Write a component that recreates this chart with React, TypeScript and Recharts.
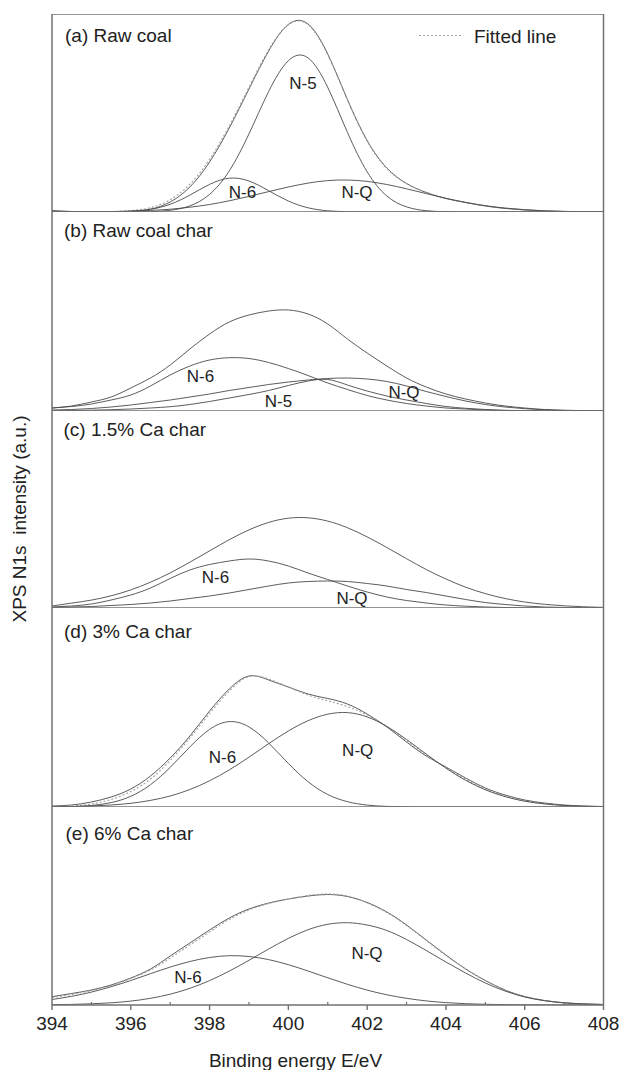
import { LineChart, Line, XAxis, YAxis, ReferenceLine } from "recharts"

// binding energy grid, eV
const energy = [
  394, 394.5, 395, 395.5, 396, 396.5, 397, 397.5, 398, 398.5, 399, 399.5, 400, 400.5, 401,
  401.5, 402, 402.5, 403, 403.5, 404, 404.5, 405, 405.5, 406, 406.5, 407, 407.5, 408,
]
const majorTicks = [394, 396, 398, 400, 402, 404, 406, 408]
const minorTicks = [395, 397, 399, 401, 403, 405, 407]

// (a) raw coal
const rawA = [1.5, 0.5, 0, 0.3, 0.8, 2.8, 10, 25, 50, 84, 123, 161, 187.5, 188, 158, 112.5, 71.5, 44, 28.5, 19.5, 13.5, 9.5, 6, 3.6, 2, 1, 0.5, 0.4, 0.3]
const fitA = [0, 0.1, 0.2, 0.4, 1.5, 4.3, 12.2, 27.8, 52.7, 86.1, 124.7, 162.2, 187.3, 187.2, 157.2, 111.9, 70.8, 43.5, 28.3, 19.7, 13.7, 9.6, 6.3, 3.9, 2.3, 1.2, 0.6, 0.3, 0.1]
const n5A = [0, 0, 0, 0, 0, 0.3, 1.7, 6.1, 17.6, 41.1, 78.1, 120.5, 151.3, 154.1, 124.6, 79.6, 40.2, 16, 5.1, 1.3, 0.2, 0, 0, 0, 0, 0, 0, 0, 0]
const n6A = [0, 0, 0, 0, 0.7, 2.7, 7.7, 16.9, 27.6, 33.8, 31, 21.3, 11, 4.2, 1.2, 0.3, 0, 0, 0, 0, 0, 0, 0, 0, 0, 0, 0, 0, 0]
const nqA = [0, 0.1, 0.2, 0.4, 0.8, 1.6, 2.8, 4.8, 7.5, 11.2, 15.6, 20.4, 25, 28.9, 31.4, 32, 30.6, 27.5, 23.2, 18.4, 13.7, 9.6, 6.3, 3.9, 2.3, 1.2, 0.6, 0.3, 0.1]

// (b) raw coal char
const rawB = [3, 5, 9, 14, 23, 33, 46, 62, 77, 89, 96, 100, 101, 97, 87, 72, 58, 45, 33, 24, 17, 12, 8, 5, 3, 1.5, 0.8, 0.3, 0]
const n6B = [3, 4.5, 7, 11, 16, 25, 36, 45, 51, 53.3, 52.5, 48.5, 42.5, 35.5, 28, 21.5, 15.5, 11, 7.5, 5, 3, 2, 1, 0.5, 0.2, 0, 0, 0, 0]
const n5B = [0.3, 0.5, 0.8, 1.3, 2, 3, 4.3, 6.5, 9.5, 13, 16.5, 20.5, 25.5, 30, 31.5, 26, 20, 15, 11, 7.5, 4.5, 2.7, 1.5, 0.7, 0.3, 0, 0, 0, 0]
const nqB = [1, 1.5, 2.5, 4, 6, 8.5, 11, 14, 17, 20.5, 23.5, 26.5, 29, 31, 32.5, 33, 32, 29.5, 25, 19.5, 14.5, 10, 6.5, 4, 2.3, 1.2, 0.5, 0.2, 0]

// (c) 1.5% Ca char
const rawC = [2, 4.9, 7.9, 12.2, 18.1, 25.8, 35.1, 45.8, 57.1, 68.3, 78.1, 85.6, 89.8, 90.2, 86.9, 80.3, 71.1, 60.5, 49.3, 38.5, 29, 20.8, 14.4, 9.5, 6, 3.7, 2.2, 1.2, 0.6]
const n6C = [1, 2, 4, 8, 13, 20, 29.5, 38, 43.5, 47, 49, 47, 42, 35, 28.5, 22, 16, 11, 7.5, 5, 3, 1.8, 1, 0.5, 0.2, 0, 0, 0, 0]
const nqC = [0.5, 1, 1.5, 2.5, 3.5, 5, 7, 9.5, 12, 15, 18.5, 22, 25, 26.5, 27, 26.5, 24.5, 22, 18.5, 15.5, 12, 8.5, 5.5, 3.5, 2, 1, 0.5, 0.2, 0]

// (d) 3% Ca char
const rawD = [1, 2, 5, 10, 18, 31, 49, 71, 96, 118, 131, 127, 120, 113, 108.5, 103, 93, 80, 65, 51, 40, 29, 19, 12, 7, 4, 2, 1, 0.5]
const fitD = [0.3, 0.9, 3, 7.5, 15.5, 28, 46.5, 69, 93.5, 116, 130.5, 128, 120, 112, 106, 100.5, 92, 80.5, 66, 52, 39.5, 27.5, 18, 11, 6, 3.2, 1.5, 0.7, 0.3]
const n6D = [0.1, 0.4, 1.5, 4.4, 10.7, 22.3, 39.6, 60.1, 77.6, 85.4, 80.1, 64, 43.6, 25.3, 12.5, 5.3, 1.9, 0.6, 0.15, 0, 0, 0, 0, 0, 0, 0, 0, 0, 0]
const nqD = [0.2, 0.5, 1, 2, 3.7, 6.6, 11, 17.5, 26.2, 37.1, 49.8, 63.3, 76, 86.3, 92.8, 94.4, 90.1, 80.6, 67.5, 52.9, 38.8, 26.7, 17.2, 10.4, 5.8, 3.1, 1.5, 0.7, 0.3]

// (e) 6% Ca char
const rawE = [8.3, 11.5, 15, 20, 27, 36, 49, 62, 75, 87, 96, 102, 106, 109, 110.5, 108.5, 102.5, 93, 80, 65, 50, 36, 24.5, 15, 8.5, 4.5, 2.2, 1, 0.5]
const fitE = [7.5, 10.5, 14.5, 19.5, 26.5, 35, 47, 60, 73, 85.5, 95, 101.5, 106, 109.5, 111, 109, 102, 92.5, 79.5, 64.5, 49.5, 36, 24.5, 15, 8.5, 4.5, 2.2, 1, 0.5]
const n6E = [5.5, 8.7, 12.9, 18.3, 24.5, 31.3, 37.9, 43.5, 47.5, 49.3, 48.5, 45.4, 40.3, 34, 27.2, 20.7, 14.9, 10.2, 6.7, 4.1, 2.4, 1.3, 0.7, 0.35, 0.15, 0, 0, 0, 0]
const nqE = [0.3, 0.6, 1.2, 2.2, 3.9, 6.7, 10.8, 16.7, 24.4, 33.9, 44.7, 56, 66.6, 75.3, 80.7, 82.3, 80, 74.5, 65.5, 54.5, 43, 32, 22, 14, 8, 4.3, 2.2, 1.1, 0.5]

const FONT = "'Liberation Sans', Arial, Helvetica, sans-serif"
const INK = "#4a4a4a"
const FRAME = "#707070"
const FIT = "#a0a0a0"
const W = 622
const LEFT = 52
const RIGHT = 603.5

type Curve = { key: string; values: number[]; dashed?: boolean }
type PanelProps = { top: number; height: number; curves: Curve[]; axis?: boolean; capTop?: boolean }

function Panel({ top, height, curves, axis, capTop }: PanelProps) {
  const rows = energy.map((e, i) => {
    const row: Record<string, number> = { e }
    curves.forEach((c) => (row[c.key] = c.values[i]))
    return row
  })
  const axisH = axis ? 40 : 0
  return (
    <div style={{ position: "absolute", left: 0, top }}>
      <LineChart
        width={W}
        height={height + axisH}
        data={rows}
        margin={{ top: 0, right: W - RIGHT, bottom: 0, left: LEFT }}
      >
        <XAxis
          type="number"
          dataKey="e"
          domain={[394, 408]}
          ticks={majorTicks}
          interval={0}
          hide={!axis}
          height={axisH}
          axisLine={false}
          tickLine={{ stroke: FRAME, strokeWidth: 1.4 }}
          tickSize={5}
          tickMargin={6.5}
          tick={{ fontSize: 19, fill: "#222", fontFamily: FONT }}
        />
        <YAxis hide type="number" domain={[0, height]} allowDataOverflow />
        {curves.map((c) => (
          <Line
            key={c.key}
            dataKey={c.key}
            type="natural"
            dot={false}
            stroke={c.dashed ? FIT : INK}
            strokeWidth={c.dashed ? 1.1 : 0.9}
            strokeDasharray={c.dashed ? "2 2" : undefined}
            isAnimationActive={false}
          />
        ))}
        <ReferenceLine x={394} stroke={FRAME} strokeWidth={1.5} />
        <ReferenceLine x={408} stroke={FRAME} strokeWidth={1.5} />
        <ReferenceLine y={0} stroke={FRAME} strokeWidth={1.5} />
        {capTop && <ReferenceLine y={height} stroke={FRAME} strokeWidth={1.5} />}
        {axis &&
          minorTicks.map((t) => (
            <ReferenceLine
              key={t}
              segment={[
                { x: t, y: 0 },
                { x: t, y: 3 },
              ]}
              stroke={FRAME}
              strokeWidth={1.2}
            />
          ))}
      </LineChart>
    </div>
  )
}

const titles = [
  { text: "(a) Raw coal", x: 65, y: 42 },
  { text: "(b) Raw coal char", x: 64, y: 237 },
  { text: "(c) 1.5% Ca char", x: 63.5, y: 436 },
  { text: "(d) 3% Ca char", x: 64, y: 638 },
  { text: "(e) 6% Ca char", x: 65.5, y: 840 },
]

const peakLabels = [
  { text: "N-5", x: 303, y: 89 },
  { text: "N-6", x: 242.5, y: 198 },
  { text: "N-Q", x: 357, y: 198 },
  { text: "N-6", x: 200.5, y: 382 },
  { text: "N-5", x: 278.5, y: 407 },
  { text: "N-Q", x: 404, y: 398 },
  { text: "N-6", x: 215.5, y: 583 },
  { text: "N-Q", x: 352, y: 604 },
  { text: "N-6", x: 222.5, y: 763 },
  { text: "N-Q", x: 357.7, y: 756 },
  { text: "N-6", x: 188, y: 983 },
  { text: "N-Q", x: 367, y: 959 },
]

export default function App() {
  return (
    <div style={{ position: "absolute", left: 0, top: 0, width: W, height: 1070, background: "#fff" }}>
      <Panel
        top={14}
        height={198}
        capTop
        curves={[
          { key: "raw", values: rawA },
          { key: "fit", values: fitA, dashed: true },
          { key: "n5", values: n5A },
          { key: "n6", values: n6A },
          { key: "nq", values: nqA },
        ]}
      />
      <Panel
        top={212}
        height={199}
        curves={[
          { key: "raw", values: rawB },
          { key: "n6", values: n6B },
          { key: "n5", values: n5B },
          { key: "nq", values: nqB },
        ]}
      />
      <Panel
        top={411}
        height={197}
        curves={[
          { key: "raw", values: rawC },
          { key: "n6", values: n6C },
          { key: "nq", values: nqC },
        ]}
      />
      <Panel
        top={608}
        height={199}
        curves={[
          { key: "raw", values: rawD },
          { key: "fit", values: fitD, dashed: true },
          { key: "n6", values: n6D },
          { key: "nq", values: nqD },
        ]}
      />
      <Panel
        top={807}
        height={198}
        axis
        curves={[
          { key: "raw", values: rawE },
          { key: "fit", values: fitE, dashed: true },
          { key: "n6", values: n6E },
          { key: "nq", values: nqE },
        ]}
      />
      <svg
        width={W}
        height={1070}
        style={{ position: "absolute", left: 0, top: 0, pointerEvents: "none" }}
        fontFamily={FONT}
        fill="#222"
      >
        {titles.map((t) => (
          <text key={t.text} x={t.x} y={t.y} fontSize={19}>
            {t.text}
          </text>
        ))}
        {peakLabels.map((l, i) => (
          <text key={i} x={l.x} y={l.y} fontSize={17} textAnchor="middle">
            {l.text}
          </text>
        ))}
        <line x1={419} x2={463} y1={35.5} y2={35.5} stroke={FIT} strokeWidth={1.1} strokeDasharray="2 2" />
        <text x={474} y={42.5} fontSize={19}>
          Fitted line
        </text>
        <text x={295.5} y={1067} fontSize={19} textAnchor="middle">
          Binding energy E/eV
        </text>
        <text
          transform="translate(25.5 519) rotate(-90)"
          fontSize={19}
          textAnchor="middle"
          style={{ whiteSpace: "pre" }}
        >
          {"XPS N1s  intensity (a.u.)"}
        </text>
      </svg>
    </div>
  )
}
